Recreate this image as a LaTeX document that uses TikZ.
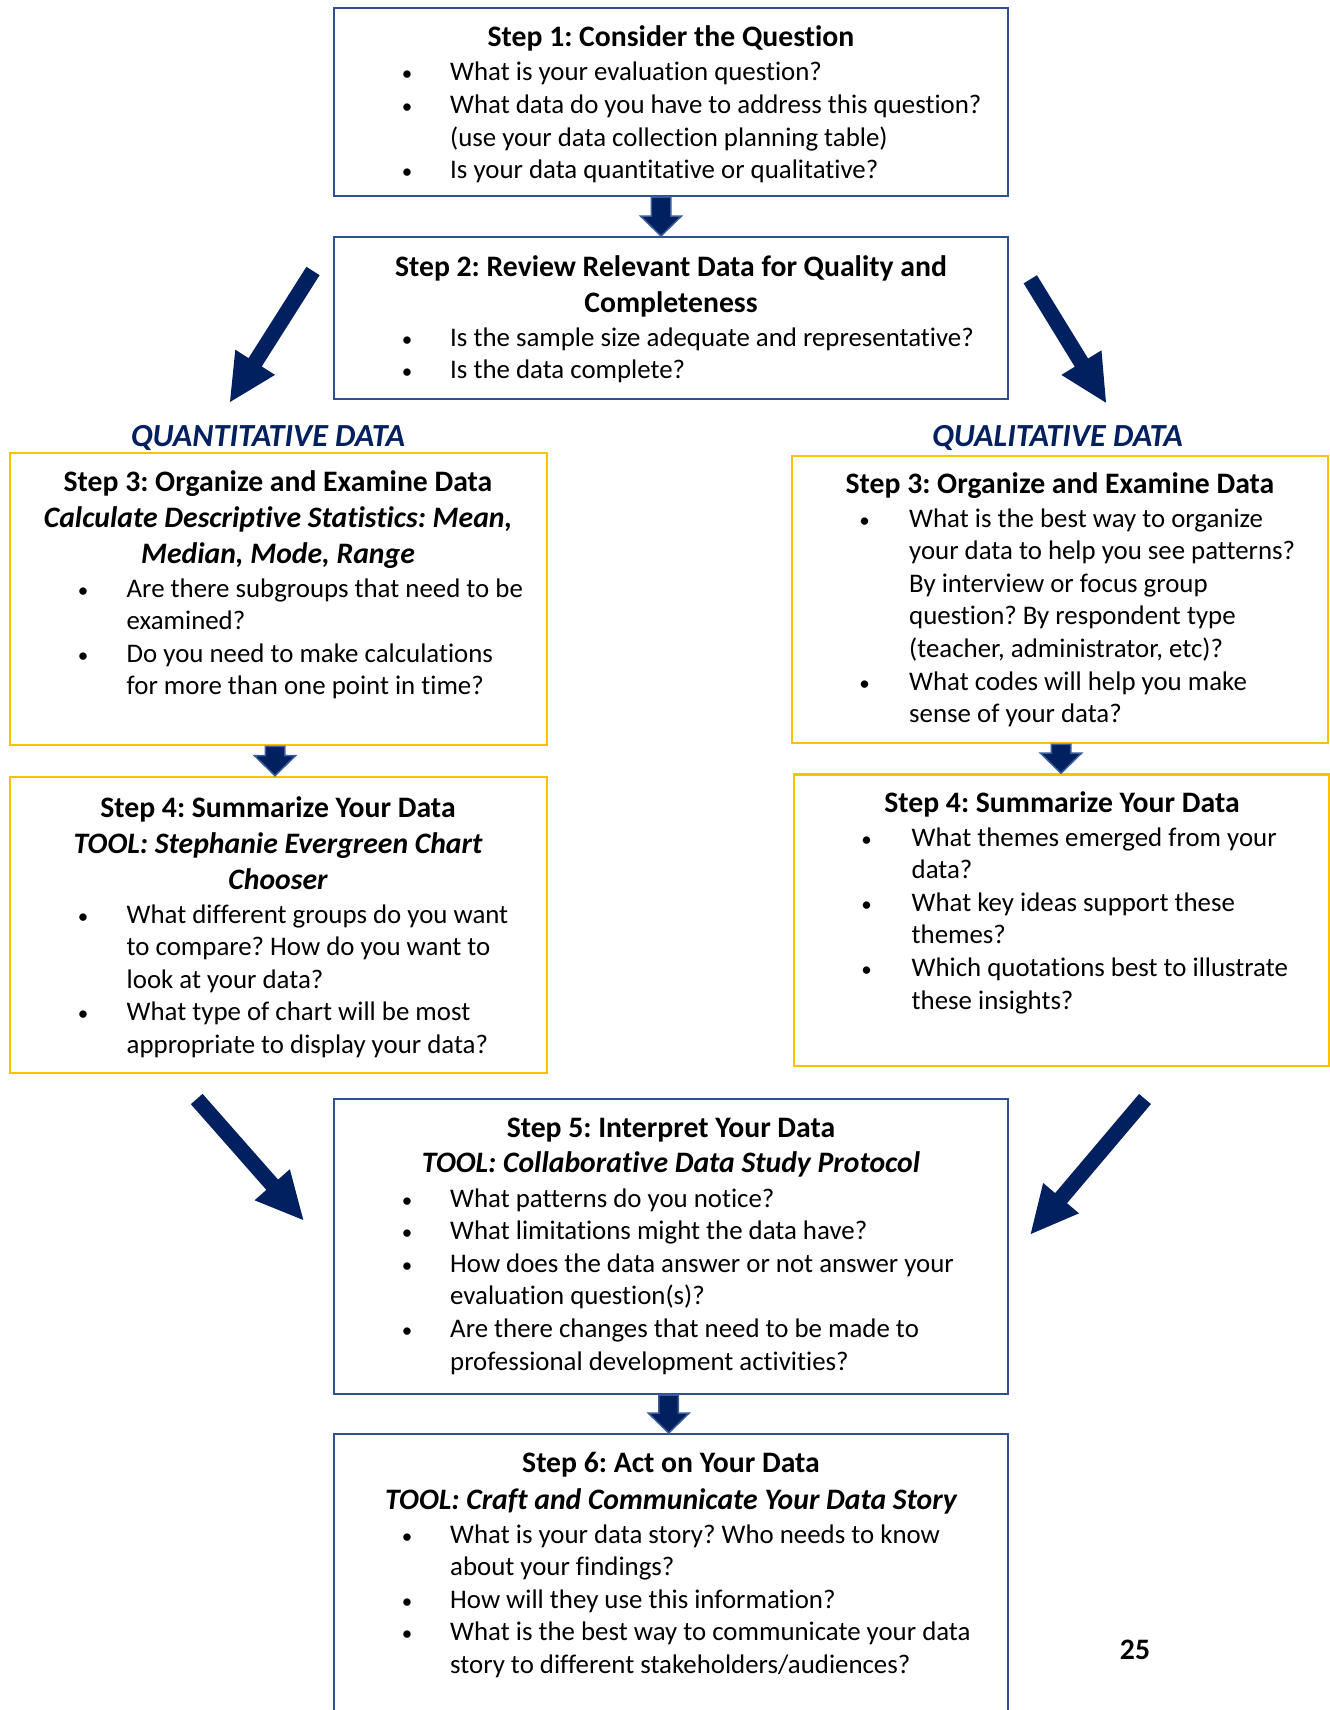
\documentclass[tikz,border=0pt]{standalone}
\usepackage{fontspec}
\setmainfont{Carlito}[Ligatures=NoCommon]
\usetikzlibrary{calc}
\definecolor{navy}{HTML}{002060}
\definecolor{boxblue}{HTML}{2F528F}
\definecolor{arrline}{HTML}{3A5D9C}
\definecolor{gold}{HTML}{FFC000}
\frenchspacing
\tikzset{
  tx/.style={inner sep=0pt, font=\fontsize{26.85}{32.6}\selectfont},
  hd/.style={inner sep=0pt, font=\fontsize{29.7}{36}\selectfont\bfseries},
  hdi/.style={inner sep=0pt, font=\fontsize{29.7}{36}\selectfont\bfseries\itshape},
  lab/.style={inner sep=0pt, text=navy, font=\fontsize{32.2}{38}\selectfont\bfseries\itshape},
  bbox/.style={draw=boxblue, line width=2pt, fill=none, inner sep=0pt},
  ybox/.style={draw=gold, line width=2.6pt, fill=none, inner sep=0pt},
  downarr/.style={fill=navy, draw=arrline, line width=1.5pt, line join=miter},
  diagarr/.style={fill=navy, draw=none},
}
\newcommand\BulLine[5]{\node[tx,anchor=base] (#1-b) at (#2,#4) {\fontsize{21}{20}\selectfont\textbullet};
  \node[tx,anchor=base west] (#1) at (#3,#4) {#5};}
\newcommand\ContLine[4]{\node[tx,anchor=base west] (#1) at (#2,#3) {#4};}
\newcommand\HeadC[4]{\node[hd,anchor=base] (#1) at (#2,#3) {#4};}
\newcommand\HeadI[4]{\node[hdi,anchor=base] (#1) at (#2,#3) {#4};}
% block arrow: name, tail, tip, half shaft, half head, head length, style
\newcommand\BlockArrow[7]{%
  \coordinate (#1t) at (#2);
  \coordinate (#1p) at (#3);
  \coordinate (#1c) at ($(#1p)!#6!(#1t)$);
  \filldraw[#7] ($(#1t)!#4!90:(#1p)$) -- ($(#1c)!#4!-90:(#1t)$) -- ($(#1c)!#5!-90:(#1t)$)
    -- (#1p) -- ($(#1c)!#5!90:(#1t)$) -- ($(#1c)!#4!90:(#1t)$) -- ($(#1t)!#4!-90:(#1p)$) -- cycle;}
\begin{document}
\begin{tikzpicture}[x=1pt,y=-1pt]
\fill[white] (0,0) rectangle (1330,1710);
\useasboundingbox (0,0) rectangle (1330,1710);

% boxes
\node[bbox, minimum width=674pt, minimum height=187.5pt] (s1) at (671,102.25) {};
\node[bbox, minimum width=674pt, minimum height=162pt] (s2) at (671,318) {};
\node[ybox, minimum width=537pt, minimum height=292pt] (s3L) at (278.5,599) {};
\node[ybox, minimum width=536pt, minimum height=287pt] (s3R) at (1060,599.5) {};
\node[ybox, minimum width=537pt, minimum height=296pt] (s4L) at (278.5,925) {};
\node[ybox, minimum width=535pt, minimum height=291.5pt] (s4R) at (1061.5,920.25) {};
\node[bbox, minimum width=674pt, minimum height=295pt] (s5) at (671,1246.5) {};
\begin{scope}
\clip (0,0) rectangle (1330,1710);
\node[bbox, minimum width=674pt, minimum height=300pt] (s6) at (671,1584) {};
\end{scope}

% step 1
\HeadC{t1}{671}{46.5}{Step 1: Consider the Question}
\BulLine{t1a}{407}{450}{81}{What is your evaluation question?}
\BulLine{t1b}{407}{450}{113.5}{What data do you have to address this question?}
\ContLine{t1c}{450}{146}{(use your data collection planning table)}
\BulLine{t1d}{407}{450}{178.5}{Is your data quantitative or qualitative?}

% step 2
\HeadC{t2}{671}{276.5}{Step 2: Review Relevant Data for Quality and}
\HeadC{t2x}{671}{312.5}{Completeness}
\BulLine{t2a}{407}{450}{346}{Is the sample size adequate and representative?}
\BulLine{t2b}{407}{450}{378.5}{Is the data complete?}

% labels
\node[lab,anchor=base] (qn) at (268,446) {QUANTITATIVE DATA};
\node[lab,anchor=base] (ql) at (1057.5,446) {QUALITATIVE DATA};

% step 3 left
\HeadC{t3L}{278}{491.5}{Step 3: Organize and Examine Data}
\HeadI{t3Li}{278}{527.5}{Calculate Descriptive Statistics: Mean,}
\HeadI{t3Lj}{278}{563.5}{Median, Mode, Range}
\BulLine{t3La}{83}{126.5}{597}{Are there subgroups that need to be}
\ContLine{t3Lb}{126.5}{629.5}{examined?}
\BulLine{t3Lc}{83}{126.5}{662}{Do you need to make calculations}
\ContLine{t3Ld}{126.5}{694.5}{for more than one point in time?}

% step 3 right
\HeadC{t3R}{1060}{493.5}{Step 3: Organize and Examine Data}
\BulLine{t3Ra}{864.5}{909}{527}{What is the best way to organize}
\ContLine{t3Rb}{909}{559.6}{your data to help you see patterns?}
\ContLine{t3Rc}{909}{592.2}{By interview or focus group}
\ContLine{t3Rd}{909}{624.8}{question? By respondent type}
\ContLine{t3Re}{909}{657.4}{(teacher, administrator, etc)?}
\BulLine{t3Rf}{864.5}{909}{690}{What codes will help you make}
\ContLine{t3Rg}{909}{722.6}{sense of your data?}

% step 4 left
\HeadC{t4L}{278}{817.5}{Step 4: Summarize Your Data}
\HeadI{t4Li}{278}{853.5}{TOOL: Stephanie Evergreen Chart}
\HeadI{t4Lj}{278}{889.5}{Chooser}
\BulLine{t4La}{83}{126.5}{923}{What different groups do you want}
\ContLine{t4Lb}{126.5}{955.6}{to compare? How do you want to}
\ContLine{t4Lc}{126.5}{988.2}{look at your data?}
\BulLine{t4Ld}{83}{126.5}{1020.8}{What type of chart will be most}
\ContLine{t4Le}{126.5}{1053.4}{appropriate to display your data?}

% step 4 right
\HeadC{t4R}{1062}{812.5}{Step 4: Summarize Your Data}
\BulLine{t4Ra}{866.5}{911.5}{846}{What themes emerged from your}
\ContLine{t4Rb}{911.5}{878.6}{data?}
\BulLine{t4Rc}{866.5}{911.5}{911.2}{What key ideas support these}
\ContLine{t4Rd}{911.5}{943.8}{themes?}
\BulLine{t4Re}{866.5}{911.5}{976.4}{Which quotations best to illustrate}
\ContLine{t4Rf}{911.5}{1009}{these insights?}

% step 5
\HeadC{t5}{671}{1137.5}{Step 5: Interpret Your Data}
\HeadI{t5i}{671}{1172.5}{TOOL: Collaborative Data Study Protocol}
\BulLine{t5a}{407}{450}{1207}{What patterns do you notice?}
\BulLine{t5b}{407}{450}{1239.6}{What limitations might the data have?}
\BulLine{t5c}{407}{450}{1272.2}{How does the data answer or not answer your}
\ContLine{t5d}{450}{1304.8}{evaluation question(s)?}
\BulLine{t5e}{407}{450}{1337.4}{Are there changes that need to be made to}
\ContLine{t5f}{450}{1370}{professional development activities?}

% step 6
\HeadC{t6}{671}{1472.5}{Step 6: Act on Your Data}
\HeadI{t6i}{671}{1509.5}{TOOL: Craft and Communicate Your Data Story}
\BulLine{t6a}{407}{450}{1543}{What is your data story? Who needs to know}
\ContLine{t6b}{450}{1575.6}{about your findings?}
\BulLine{t6c}{407}{450}{1608.2}{How will they use this information?}
\BulLine{t6d}{407}{450}{1640.8}{What is the best way to communicate your data}
\ContLine{t6e}{450}{1673.4}{story to different stakeholders/audiences?}

% page number
\node[hd,anchor=base] (pg) at (1135,1659.5) {25};

% down arrows
\BlockArrow{d1}{$(s1.south)+(-10,0)$}{$(s2.north)+(-10,0)$}{9.75pt}{20.5pt}{20pt}{downarr}
\BlockArrow{d2}{$(s3L.south)+(-3.5,0)$}{$(s4L.north)+(-3.5,0)$}{9.75pt}{20.5pt}{20pt}{downarr}
\BlockArrow{d3}{$(s3R.south)+(1,0)$}{$(s4R.north)+(-0.5,0)$}{9.75pt}{20.5pt}{20pt}{downarr}
\BlockArrow{d4}{$(s5.south)+(-2.3,0)$}{$(s6.north)+(-2.3,0)$}{9.75pt}{20.5pt}{20pt}{downarr}

% diagonal arrows
\BlockArrow{a1}{313,271}{230,402}{7.8pt}{23.5pt}{47pt}{diagarr}
\BlockArrow{a2}{1030.3,279.3}{1106,402.7}{7.8pt}{23.5pt}{47pt}{diagarr}
\BlockArrow{a3}{196.7,1099}{303.3,1220}{7.8pt}{23.5pt}{47pt}{diagarr}
\BlockArrow{a4}{1145,1099}{1030.7,1234}{7.8pt}{23.5pt}{47pt}{diagarr}
\end{tikzpicture}
\end{document}
